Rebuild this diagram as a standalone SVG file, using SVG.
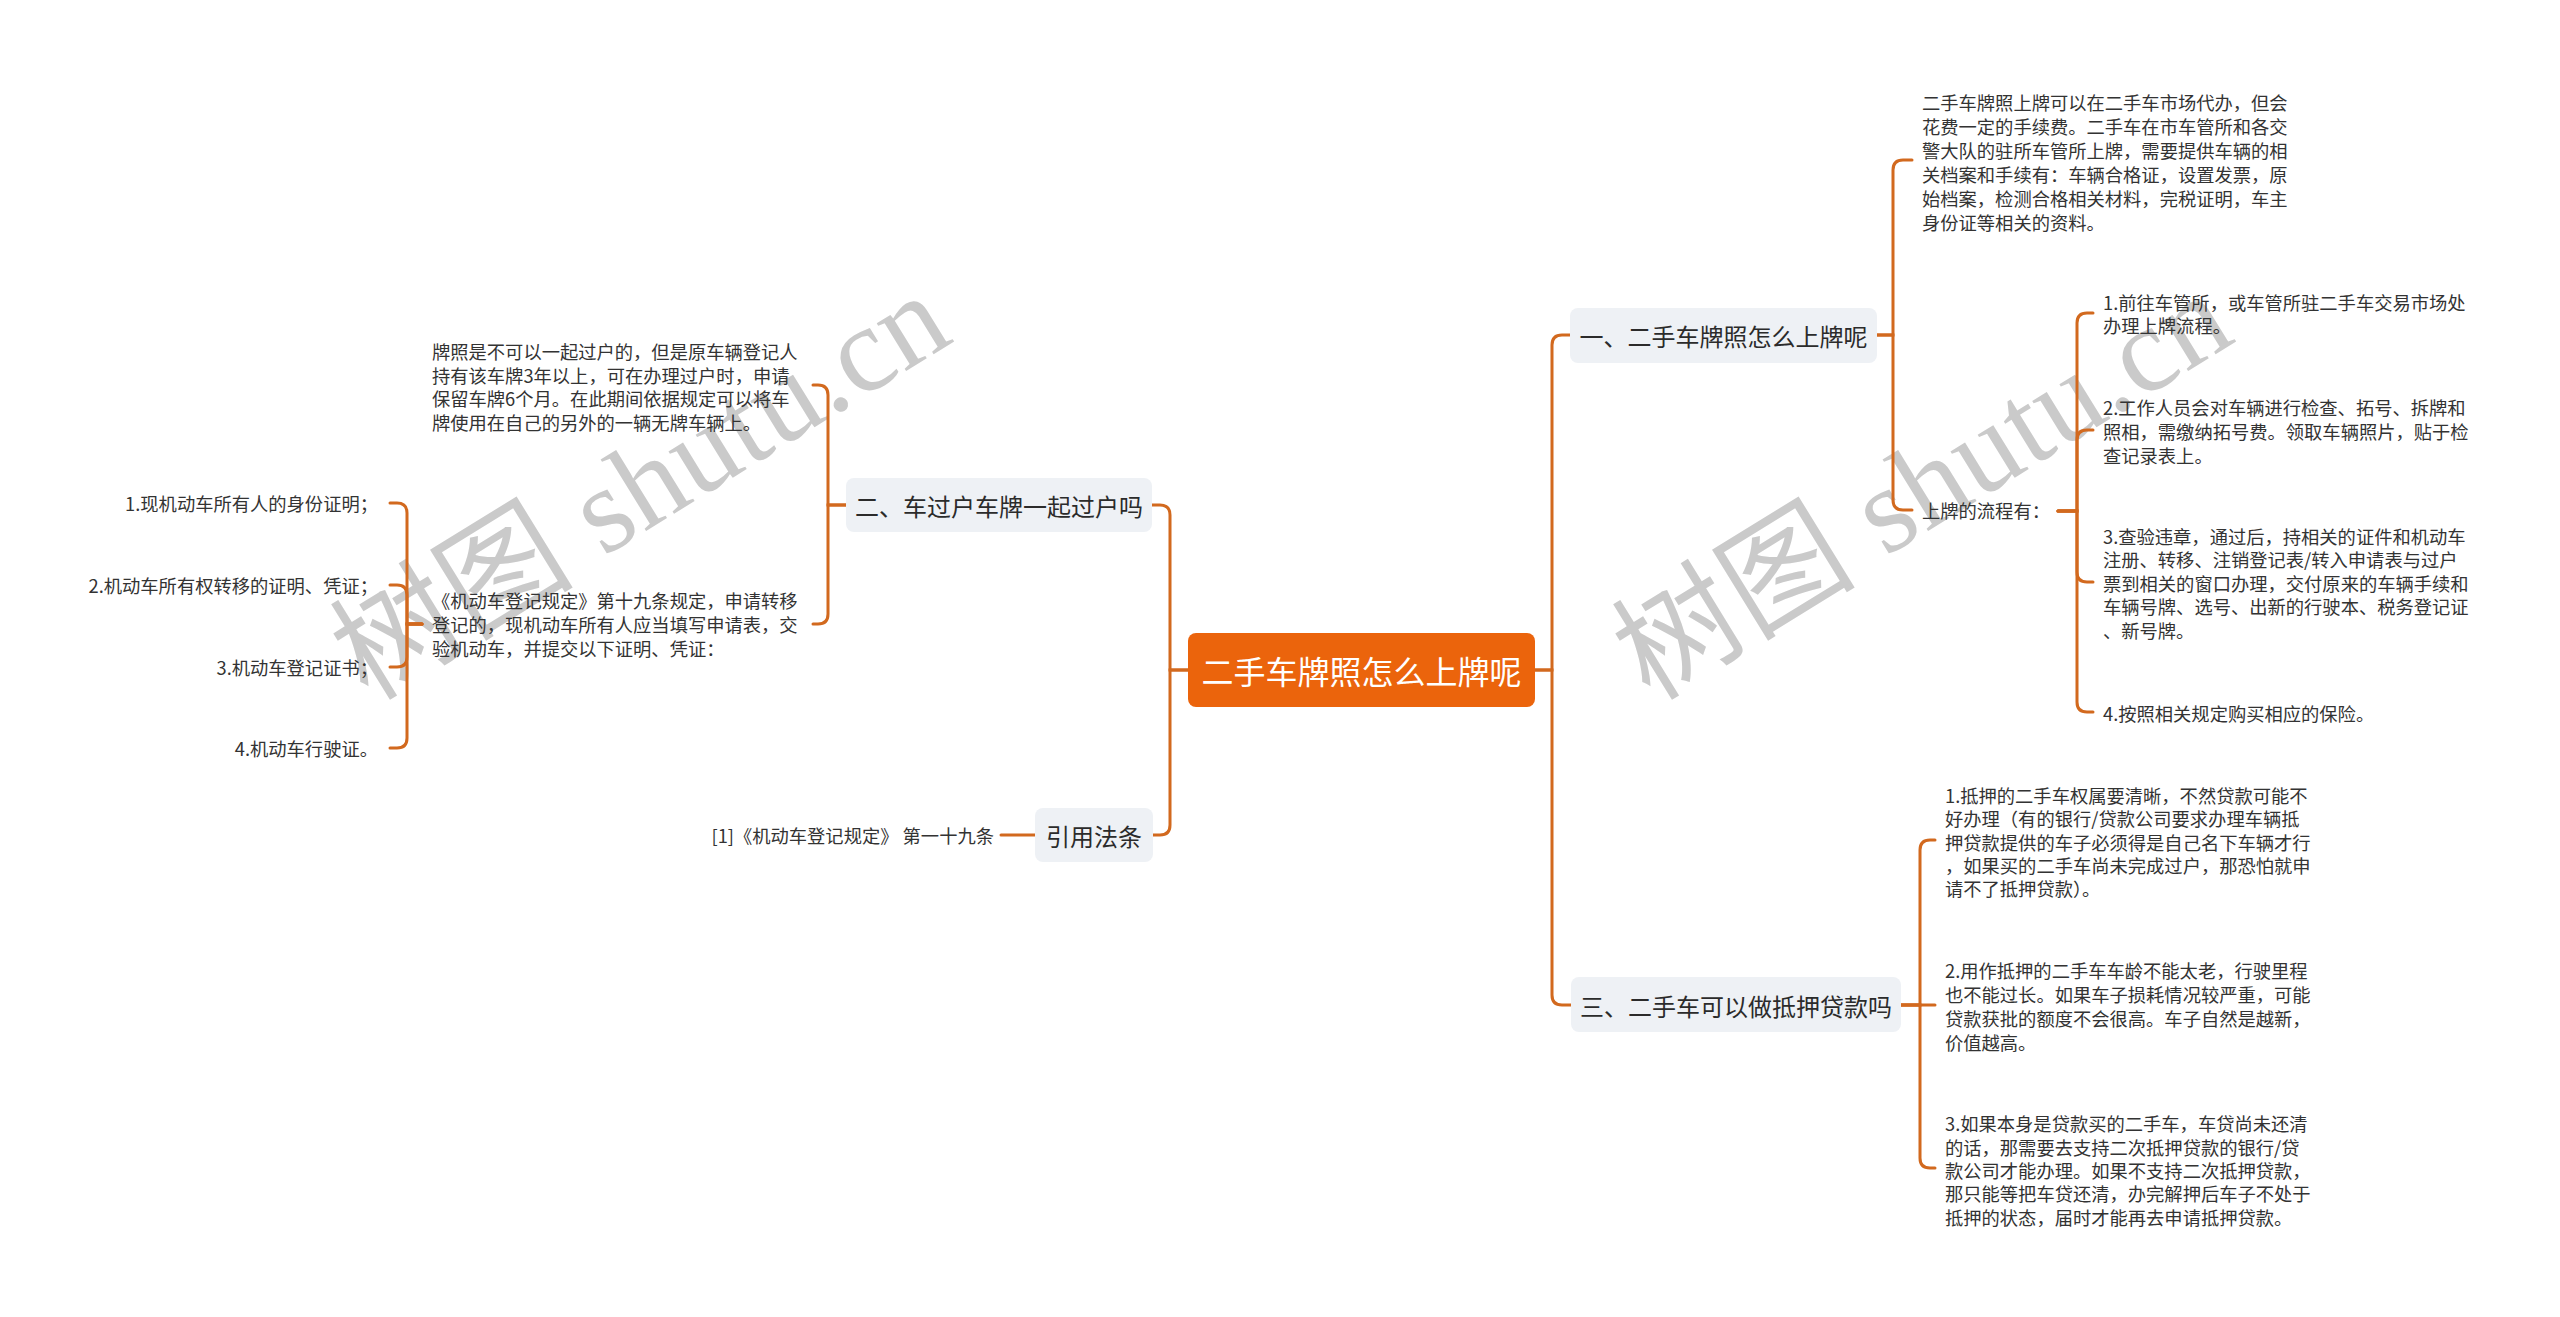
<svg xmlns="http://www.w3.org/2000/svg" width="2560" height="1317" viewBox="0 0 2560 1317">
<style>
text, tspan { font-family: "Noto Sans CJK SC", "Noto Sans", sans-serif; dominant-baseline: central; }
.t { font-size: 18.3px; fill: #333333; }
.b { font-size: 24px; fill: #2b2b2b; text-anchor: middle; }
.root { font-size: 32px; fill: #ffffff; text-anchor: middle; }
.box { fill: #eef1f5; }
.conn path { fill: none; stroke: #d2691e; stroke-width: 3; stroke-linecap: round; }
.wm { font-family: "Liberation Serif", "Noto Sans CJK SC", serif; font-size: 122px; fill: #cacaca; dominant-baseline: alphabetic; }
</style>
<rect width="2560" height="1317" fill="#ffffff"/>
<g id="watermarks">
<text class="wm" transform="translate(368,702) rotate(-31.6)" textLength="690" lengthAdjust="spacing">树图 shutu.cn</text>
<text class="wm" transform="translate(1650,702) rotate(-31.6)" textLength="690" lengthAdjust="spacing">树图 shutu.cn</text>
</g>
<g id="connectors" class="conn">
<path d="M1535 670 H1552 V345 Q1552 335 1562 335 H1570"/>
<path d="M1535 670 H1552 V995 Q1552 1005 1562 1005 H1571"/>
<path d="M1877 335 H1893 V170 Q1893 160 1903 160 H1912"/>
<path d="M1877 335 H1893 V500 Q1893 510 1903 510 H1912"/>
<path d="M2058 511 H2077 V323 Q2077 313 2087 313 H2093"/>
<path d="M2058 511 H2077 V440 Q2077 430 2087 430 H2093"/>
<path d="M2058 511 H2077 V572 Q2077 582 2087 582 H2093"/>
<path d="M2058 511 H2077 V702 Q2077 712 2087 712 H2093"/>
<path d="M1901 1005 H1920 V850 Q1920 840 1930 840 H1935"/>
<path d="M1901 1005 H1935"/>
<path d="M1901 1005 H1920 V1158 Q1920 1168 1930 1168 H1935"/>
<path d="M1188 670 H1170 V515 Q1170 505 1160 505 H1152"/>
<path d="M1188 670 H1170 V825 Q1170 835 1160 835 H1153"/>
<path d="M846 505 H828 V395 Q828 385 818 385 H813"/>
<path d="M846 505 H828 V614 Q828 624 818 624 H813"/>
<path d="M422 624 H407 V513 Q407 503 397 503 H390"/>
<path d="M422 624 H407 V595 Q407 585 397 585 H390"/>
<path d="M422 624 H407 V657 Q407 667 397 667 H390"/>
<path d="M422 624 H407 V738 Q407 748 397 748 H390"/>
<path d="M1035 835 H1001"/>
</g>
<g id="root">
<rect x="1188" y="633" width="347" height="74" rx="8" fill="#eb640c"/>
<text class="root" x="1361.5" y="670">二手车牌照怎么上牌呢</text>
</g>
<g id="branch1">
<rect class="box" x="1570" y="308" width="307" height="55" rx="8"/>
<text class="b" x="1723.5" y="335.5">一、二手车牌照怎么上牌呢</text>
</g>
<g id="b1-note">
<text class="t">
<tspan x="1922" y="102">二手车牌照上牌可以在二手车市场代办，但会</tspan>
<tspan x="1922" y="126">花费一定的手续费。二手车在市车管所和各交</tspan>
<tspan x="1922" y="150">警大队的驻所车管所上牌，需要提供车辆的相</tspan>
<tspan x="1922" y="174">关档案和手续有：车辆合格证，设置发票，原</tspan>
<tspan x="1922" y="198">始档案，检测合格相关材料，完税证明，车主</tspan>
<tspan x="1922" y="222">身份证等相关的资料。</tspan>
</text>
</g>
<g id="b1-process">
<text class="t" x="1922" y="510">上牌的流程有：</text>
</g>
<g id="p1">
<text class="t"><tspan x="2103" y="302">1.前往车管所，或车管所驻二手车交易市场处</tspan><tspan x="2103" y="325">办理上牌流程。</tspan></text>
</g>
<g id="p2">
<text class="t"><tspan x="2103" y="407">2.工作人员会对车辆进行检查、拓号、拆牌和</tspan><tspan x="2103" y="431">照相，需缴纳拓号费。领取车辆照片，贴于检</tspan><tspan x="2103" y="455">查记录表上。</tspan></text>
</g>
<g id="p3">
<text class="t"><tspan x="2103" y="536">3.查验违章，通过后，持相关的证件和机动车</tspan><tspan x="2103" y="559">注册、转移、注销登记表/转入申请表与过户</tspan><tspan x="2103" y="583">票到相关的窗口办理，交付原来的车辆手续和</tspan><tspan x="2103" y="606">车辆号牌、选号、出新的行驶本、税务登记证</tspan><tspan x="2103" y="630">、新号牌。</tspan></text>
</g>
<g id="p4">
<text class="t" x="2103" y="713">4.按照相关规定购买相应的保险。</text>
</g>
<g id="branch3">
<rect class="box" x="1571" y="977" width="330" height="55" rx="8"/>
<text class="b" x="1736" y="1005">三、二手车可以做抵押贷款吗</text>
</g>
<g id="m1">
<text class="t"><tspan x="1945" y="795">1.抵押的二手车权属要清晰，不然贷款可能不</tspan><tspan x="1945" y="818">好办理（有的银行/贷款公司要求办理车辆抵</tspan><tspan x="1945" y="842">押贷款提供的车子必须得是自己名下车辆才行</tspan><tspan x="1945" y="865">，如果买的二手车尚未完成过户，那恐怕就申</tspan><tspan x="1945" y="888">请不了抵押贷款）。</tspan></text>
</g>
<g id="m2">
<text class="t"><tspan x="1945" y="970">2.用作抵押的二手车车龄不能太老，行驶里程</tspan><tspan x="1945" y="994">也不能过长。如果车子损耗情况较严重，可能</tspan><tspan x="1945" y="1018">贷款获批的额度不会很高。车子自然是越新，</tspan><tspan x="1945" y="1042">价值越高。</tspan></text>
</g>
<g id="m3">
<text class="t"><tspan x="1945" y="1123">3.如果本身是贷款买的二手车，车贷尚未还清</tspan><tspan x="1945" y="1147">的话，那需要去支持二次抵押贷款的银行/贷</tspan><tspan x="1945" y="1170">款公司才能办理。如果不支持二次抵押贷款，</tspan><tspan x="1945" y="1193">那只能等把车贷还清，办完解押后车子不处于</tspan><tspan x="1945" y="1217">抵押的状态，届时才能再去申请抵押贷款。</tspan></text>
</g>
<g id="branch2">
<rect class="box" x="846" y="478" width="306" height="54" rx="8"/>
<text class="b" x="999" y="505">二、车过户车牌一起过户吗</text>
</g>
<g id="b2-note1">
<text class="t"><tspan x="432" y="351">牌照是不可以一起过户的，但是原车辆登记人</tspan><tspan x="432" y="375">持有该车牌3年以上，可在办理过户时，申请</tspan><tspan x="432" y="398">保留车牌6个月。在此期间依据规定可以将车</tspan><tspan x="432" y="422">牌使用在自己的另外的一辆无牌车辆上。</tspan></text>
</g>
<g id="b2-note2">
<text class="t"><tspan x="432" y="600">《机动车登记规定》第十九条规定，申请转移</tspan><tspan x="432" y="624">登记的，现机动车所有人应当填写申请表，交</tspan><tspan x="432" y="648">验机动车，并提交以下证明、凭证：</tspan></text>
</g>
<g id="doc1"><text class="t" x="378" y="503" text-anchor="end">1.现机动车所有人的身份证明；</text></g>
<g id="doc2"><text class="t" x="378" y="585" text-anchor="end">2.机动车所有权转移的证明、凭证；</text></g>
<g id="doc3"><text class="t" x="378" y="667" text-anchor="end">3.机动车登记证书；</text></g>
<g id="doc4"><text class="t" x="378" y="748" text-anchor="end">4.机动车行驶证。</text></g>
<g id="branch4">
<rect class="box" x="1035" y="808" width="118" height="54" rx="8"/>
<text class="b" x="1094" y="835">引用法条</text>
</g>
<g id="ref1">
<text class="t" x="994" y="835" text-anchor="end">[1]《机动车登记规定》 第一十九条</text>
</g>
</svg>
